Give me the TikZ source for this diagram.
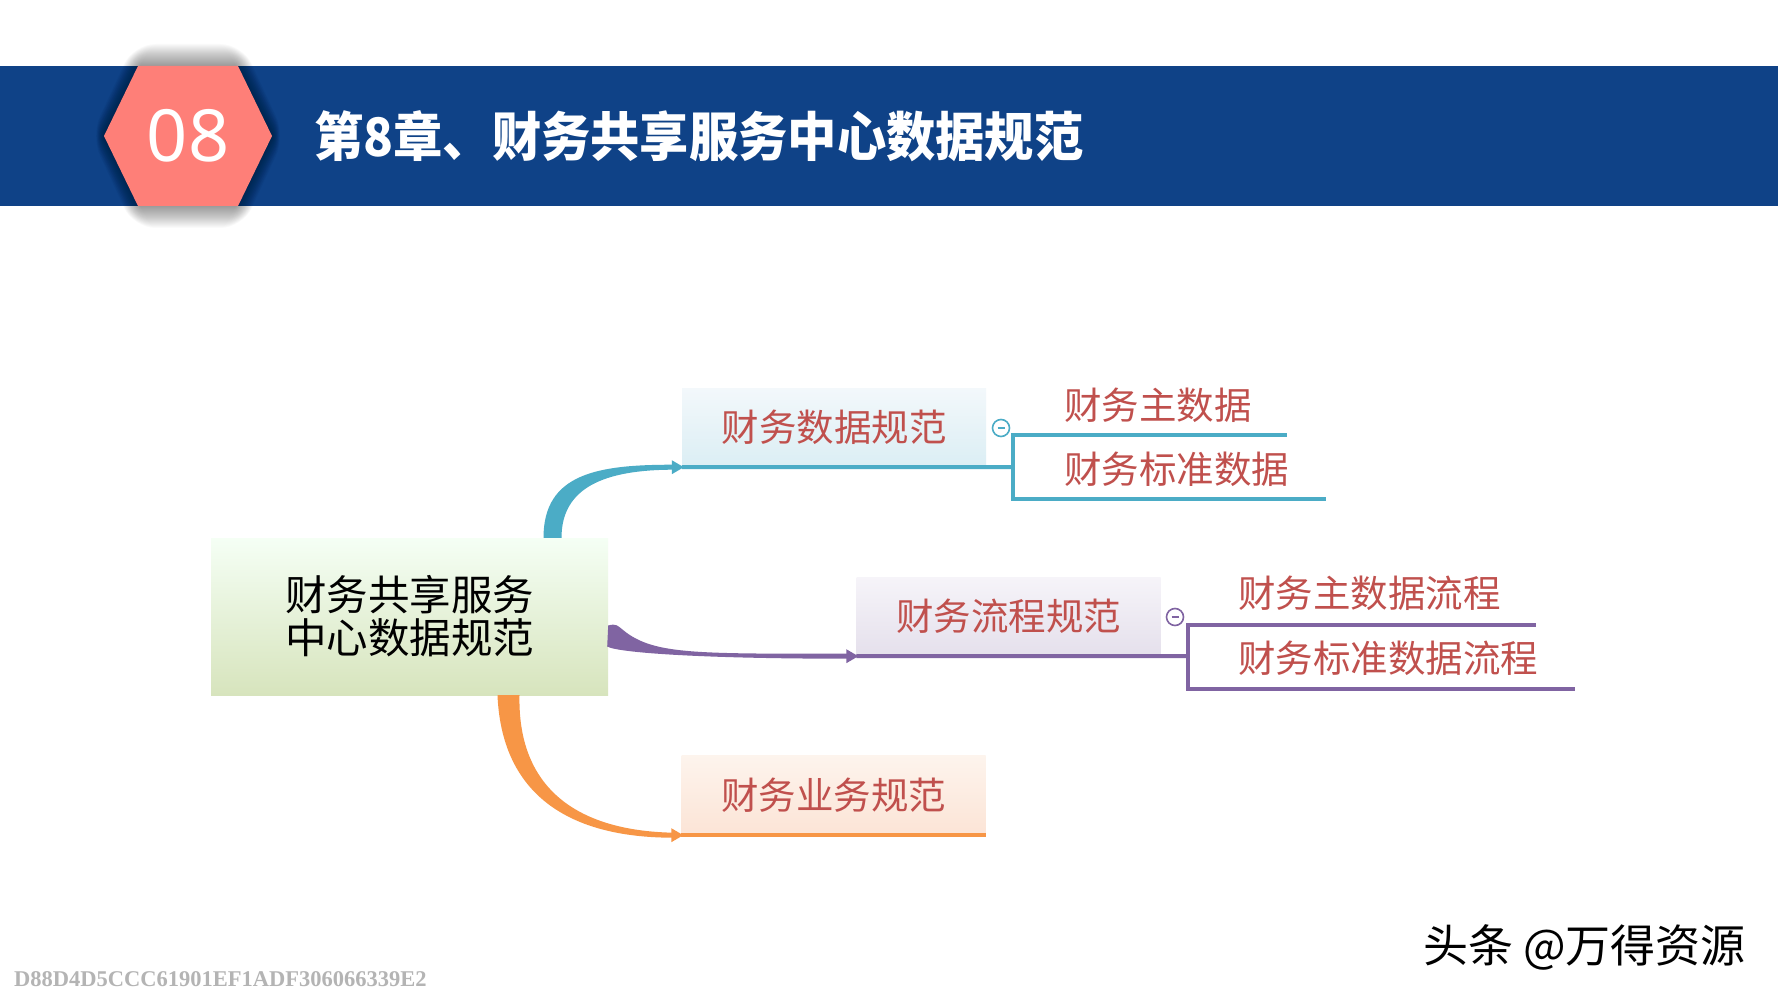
\documentclass[tikz,border=0pt]{standalone}
\usepackage{fontspec}
\usepackage{graphicx}
\setmainfont{Noto Sans}
\newfontfamily\cjk{Noto Sans CJK SC}
\newfontfamily\codefont{Liberation Serif}
\usetikzlibrary{calc}
\definecolor{bandblue}{HTML}{0F4287}
\definecolor{hexred}{HTML}{FE7F78}
\definecolor{txtred}{HTML}{C0504D}
\definecolor{cteal}{HTML}{4BACC6}
\definecolor{cpurple}{HTML}{8064A2}
\definecolor{corange}{HTML}{F79646}
\definecolor{codegray}{HTML}{B4B4B4}
\tikzset{
  mainbox/.style={inner sep=0pt, minimum width=397pt, minimum height=157pt,
    top color=green!4!white, bottom color={rgb,255:red,215;green,228;blue,189},
    align=center, font=\cjk\fontsize{41.5}{43}\selectfont},
  subbox/.style={inner sep=0pt, minimum width=304pt, minimum height=78pt,
    text=txtred, font=\cjk\fontsize{37.5}{45}\selectfont},
  leaf/.style={inner sep=0pt, anchor=west, text=txtred, font=\cjk\fontsize{37.5}{45}\selectfont},
  uline/.style={line width=4pt},
  knob/.style={circle, fill=white, line width=1.6pt, minimum size=17pt, inner sep=0pt}
}
\begin{document}
\begin{tikzpicture}[x=1pt,y=-1pt]
\useasboundingbox (0,0) rectangle (1778,1000);
\fill[white] (0,0) rectangle (1778,1000);
% header band
\fill[bandblue] (0,66) rectangle (1778,206);
% soft shadow of the hexagon
\foreach \d in {1,2,...,22}{
  \fill[black,opacity=0.02,rounded corners={\d*1pt}] ({104-\d*0.6},136) -- ({140-\d*0.3},{66-\d}) -- ({236+\d*0.3},{66-\d})
    -- ({272+\d*0.6},136) -- ({236+\d*0.3},{206+\d}) -- ({140-\d*0.3},{206+\d}) -- cycle;
}
\fill[hexred] (104,136) -- (138,66) -- (238,66) -- (272,136) -- (238,206) -- (138,206) -- cycle;
\node[text=white, inner sep=0pt, font=\fontsize{72}{80}\selectfont] (num) at (188,136) {08};
\node[anchor=west, inner sep=0pt, text=white, font=\cjk\bfseries\fontsize{53}{60}\selectfont] (title) at (314,136) {\scalebox{0.93}[1]{第8章、财务共享服务中心数据规范}};

% nodes
\node[mainbox] (C) at (409.5,616.5) {财务共享服务\\中心数据规范};
\node[subbox, top color={rgb,255:red,243;green,248;blue,251}, bottom color={rgb,255:red,219;green,238;blue,244}] (A) at (834,427) {财务数据规范};
\node[subbox, top color={rgb,255:red,246;green,244;blue,249}, bottom color={rgb,255:red,229;green,224;blue,236}] (B) at (1008.5,616) {财务流程规范};
\node[subbox, minimum height=80pt, top color={rgb,255:red,253;green,244;blue,237}, bottom color={rgb,255:red,252;green,228;blue,214}] (D) at (833.5,795) {财务业务规范};

\node[leaf] (a1) at (1064,405) {财务主数据};
\node[leaf] (a2) at (1064,469) {财务标准数据};
\node[leaf] (b1) at (1238,593) {财务主数据流程};
\node[leaf] (b2) at (1238,658) {财务标准数据流程};

% tapered connectors
\coordinate (tA) at ($(A.south west)+(-8,1)$);
\fill[cteal] ($(C.north)+(134,0)$) .. controls +(0,-65) and +(-75,0) .. ($(tA)+(0,-2.5)$)
  -- ($(tA)+(0,2.5)$) .. controls +(-70,0) and +(0,-50) .. ($(C.north)+(152,0)$) -- cycle;
\fill[cteal] ($(A.south west)+(-10,-6)$) -- ($(A.south west)+(2,1)$) -- ($(A.south west)+(-10,8)$) -- cycle;

\coordinate (tB) at ($(B.south west)+(-8,1)$);
\fill[cpurple] ($(C.east)+(0,9)$) .. controls +(8,-2) and +(-10,-8) .. ($(C.east)+(18,16)$)
  .. controls +(30,22) and +(-150,0) .. ($(tB)+(0,-2.5)$)
  -- ($(tB)+(0,2.5)$) .. controls +(-150,0) and +(10,6) .. ($(C.east)+(-1,30)$) -- cycle;
\fill[cpurple] ($(B.south west)+(-10,-6)$) -- ($(B.south west)+(2,1)$) -- ($(B.south west)+(-10,8)$) -- cycle;

\coordinate (tD) at ($(D.south west)+(-8,0)$);
\fill[corange] ($(C.south)+(88,0)$) .. controls +(4,95) and +(-110,0) .. ($(tD)+(0,2.5)$)
  -- ($(tD)+(0,-2.5)$) .. controls +(-100,-2) and +(-2,90) .. ($(C.south)+(110,0)$) -- cycle;
\fill[corange] ($(D.south west)+(-10,-7)$) -- ($(D.south west)+(2,0)$) -- ($(D.south west)+(-10,7)$) -- cycle;

% underlines and brackets
\coordinate (ja) at (1013,467);
\draw[cteal, uline] ($(A.south west)+(0,1)$) -- (ja);
\draw[cteal, uline] ($(a1.east)+(35,30)$) -- (ja |- 0,435) -- (ja |- 0,499) -- ($(a2.east)+(37,30)$);
\node[knob, draw=cteal] (ka) at (1001,428) {};
\draw[cteal, line width=1.4pt] ($(ka)+(-3.5,0)$) -- ($(ka)+(3.5,0)$);

\coordinate (jb) at (1188,656);
\draw[cpurple, uline] ($(B.south west)+(0,1)$) -- (jb);
\draw[cpurple, uline] ($(b1.east)+(35,32)$) -- (jb |- 0,625) -- (jb |- 0,689) -- ($(b2.east)+(37,31)$);
\node[knob, draw=cpurple] (kb) at (1175,617) {};
\draw[cpurple, line width=1.4pt] ($(kb)+(-3.5,0)$) -- ($(kb)+(3.5,0)$);

\draw[corange, uline] (D.south west) -- (D.south east);

% footer marks
\node[anchor=east, inner sep=0pt, font=\cjk\fontsize{45}{50}\selectfont] (wm) at (1746,947) {头条 @万得资源};
\node[anchor=west, inner sep=0pt, text=codegray, font=\codefont\bfseries\fontsize{22.5}{25}\selectfont] (code) at (14,979) {D88D4D5CCC61901EF1ADF306066339E2};
\end{tikzpicture}
\end{document}
